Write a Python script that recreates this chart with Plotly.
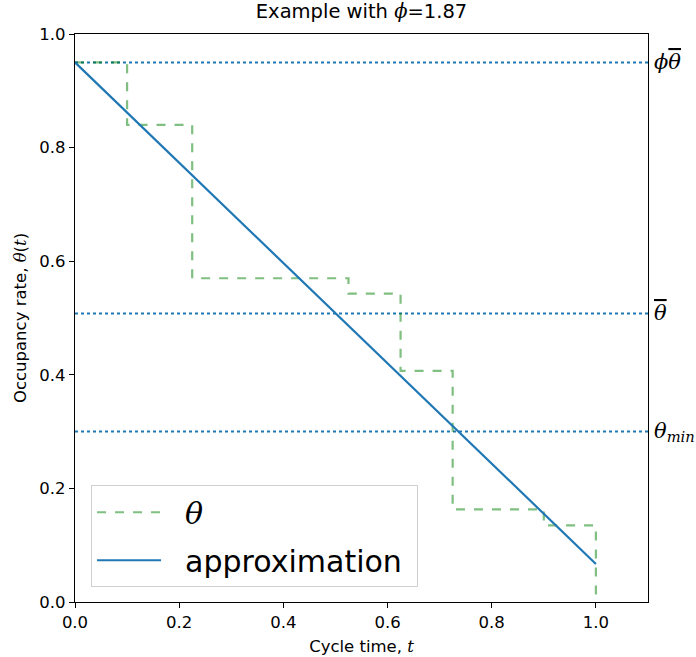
import plotly.graph_objects as go

phi = 1.87
theta_bar = 0.508
theta_min = 0.30

step_t = [0.0, 0.1, 0.1, 0.225, 0.225, 0.525, 0.525, 0.625, 0.625, 0.725, 0.725, 0.9, 0.9, 1.0, 1.0]
step_theta = [0.95, 0.95, 0.84, 0.84, 0.57, 0.57, 0.543, 0.543, 0.407, 0.407, 0.163, 0.163, 0.135, 0.135, 0.0]

approx_t = [0.0, 1.0]
approx_theta = [0.95, 0.067]

hline_values = [phi * theta_bar, theta_bar, theta_min]
OV = "<span style='text-decoration:overline'>θ</span>"
hline_labels = ["<i>ϕ" + OV + "</i>", "<i>" + OV + "</i>", "<i>θ<sub>min</sub></i>"]

x_ticks = [0.0, 0.2, 0.4, 0.6, 0.8, 1.0]
y_ticks = [0.0, 0.2, 0.4, 0.6, 0.8, 1.0]

BLUE = "#1f77b4"
GREEN = "rgba(0,128,0,0.5)"
SERIF = "DejaVu Serif"
NB = "\u00a0"

fig = go.Figure()

for v in hline_values:
    fig.add_trace(go.Scatter(x=[0, 1.1], y=[v, v], mode="lines",
                             line=dict(color=BLUE, width=2, dash="dot"),
                             showlegend=False, hoverinfo="skip"))

fig.add_trace(go.Scatter(x=step_t, y=step_theta, mode="lines",
                         line=dict(color=GREEN, width=2.2, dash="dash"),
                         legendgroup="a",
                         name=NB * 2 + "<i><span style='font-family:DejaVu Serif'>θ</span></i>"))
fig.add_trace(go.Scatter(x=approx_t, y=approx_theta, mode="lines",
                         line=dict(color=BLUE, width=2.2),
                         legendgroup="b",
                         name=NB * 2 + "approximation" + NB))

for v, lab in zip(hline_values, hline_labels):
    fig.add_annotation(x=1.0, xref="paper", y=v, yref="y", text=lab,
                       xanchor="left", yanchor="middle", xshift=4, showarrow=False,
                       font=dict(family=SERIF, size=21, color="black"))

axis_common = dict(showline=True, linecolor="black", linewidth=1.2, mirror=True,
                   showgrid=False, zeroline=False, ticks="outside", ticklen=5,
                   tickwidth=1, tickcolor="black", automargin=False,
                   tickfont=dict(family="DejaVu Sans", size=16.5, color="black"))

fig.update_xaxes(range=[0, 1.1], tickvals=x_ticks, tickformat=".1f",
                 title=dict(text="Cycle time, <i><span style='font-family:DejaVu Serif'>t</span></i>",
                            font=dict(family="DejaVu Sans", size=16.5, color="black"), standoff=9),
                 **axis_common)
fig.update_yaxes(range=[0, 1.0], tickvals=y_ticks, tickformat=".1f",
                 title=dict(text="Occupancy rate, <i><span style='font-family:DejaVu Serif'>θ</span></i>(<i><span style='font-family:DejaVu Serif'>t</span></i>)",
                            font=dict(family="DejaVu Sans", size=16.5, color="black"), standoff=8),
                 **axis_common)

fig.update_layout(
    width=696, height=657,
    margin=dict(l=75, r=48, t=34, b=55),
    paper_bgcolor="white", plot_bgcolor="white",
    title=dict(text="Example with <i><span style='font-family:DejaVu Serif'>ϕ</span></i>=1.87",
               x=0.5, xref="paper", xanchor="center", y=1, yref="container", yanchor="top", pad=dict(t=4),
               font=dict(family="DejaVu Sans", size=19.5, color="black")),
    legend=dict(x=0.028, y=0.026, xanchor="left", yanchor="bottom",
                bgcolor="rgba(255,255,255,0.8)", bordercolor="#d0d0d0", borderwidth=1,
                font=dict(family="DejaVu Sans", size=30, color="black"),
                itemwidth=64, tracegroupgap=6),
)

fig.write_html("out.html")
